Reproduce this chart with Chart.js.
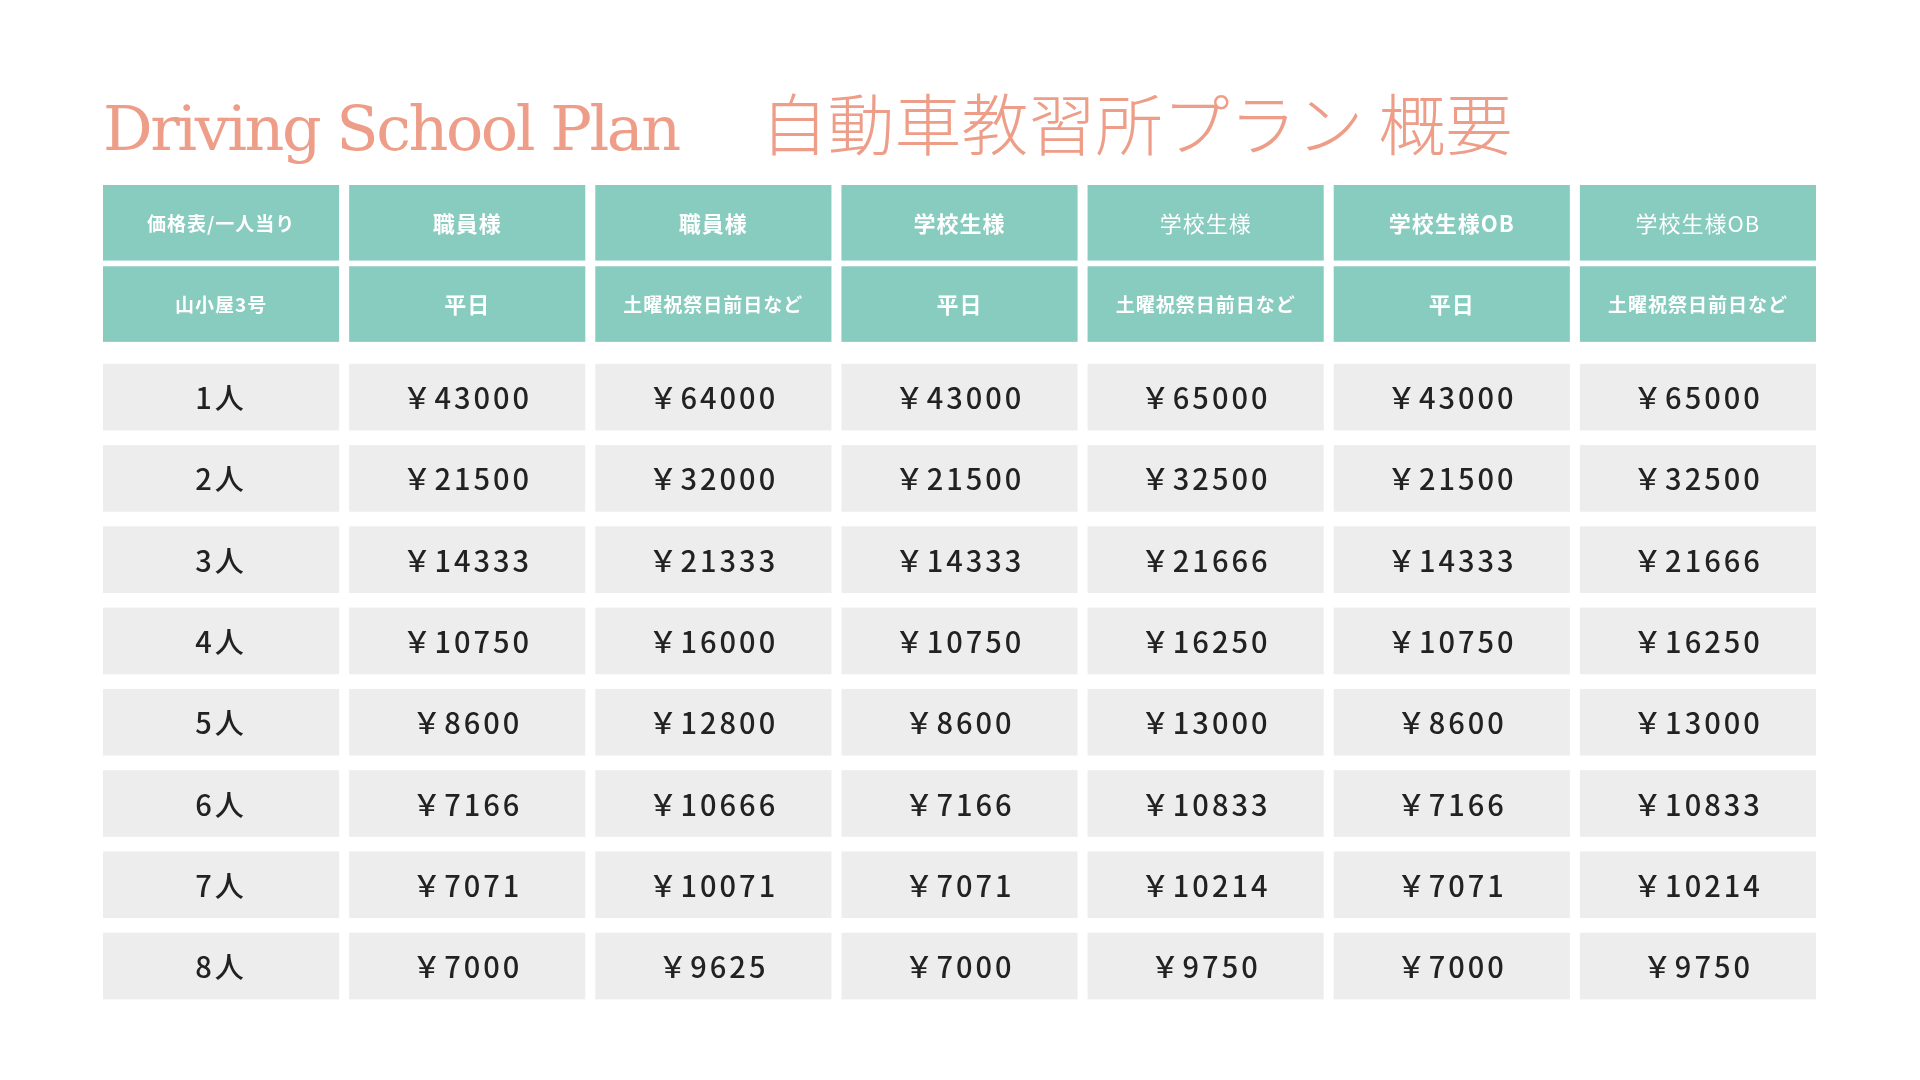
<!DOCTYPE html>
<html><head><meta charset="utf-8">
<script src="https://cdn.jsdelivr.net/npm/chart.js@4"></script>
<style>html,body{margin:0;background:#fff;width:1920px;height:1080px;overflow:hidden}
#wrap{position:absolute;left:0;top:0;width:1920px;height:1080px}
h1{position:absolute;margin:0;top:72px;left:103px;font-weight:300;color:#EE9E88;white-space:nowrap}
.en{font-family:"DejaVu Serif","Liberation Serif",serif;font-size:62px;font-weight:300;letter-spacing:-2.5px}
.jp{font-family:"Noto Sans CJK JP";font-size:67px;font-weight:300;margin-left:82px}
</style></head><body>
<div id="wrap"><canvas id="c"></canvas></div>
<h1><span class="en">Driving School Plan</span><span class="jp">自動車教習所プラン 概要</span></h1>
<script>
const headerRow1 = ["価格表/一人当り","職員様","職員様","学校生様","学校生様","学校生様OB","学校生様OB"];
const headerRow1Bold = [true,true,true,true,false,true,false];
const headerRow2 = ["山小屋3号","平日","土曜祝祭日前日など","平日","土曜祝祭日前日など","平日","土曜祝祭日前日など"];
const rowLabels = ["1人","2人","3人","4人","5人","6人","7人","8人"];
const col1 = [43000,21500,14333,10750,8600,7166,7071,7000];
const col2 = [64000,32000,21333,16000,12800,10666,10071,9625];
const col3 = [43000,21500,14333,10750,8600,7166,7071,7000];
const col4 = [65000,32500,21666,16250,13000,10833,10214,9750];
const col5 = [43000,21500,14333,10750,8600,7166,7071,7000];
const col6 = [65000,32500,21666,16250,13000,10833,10214,9750];
const valueCols = [col1,col2,col3,col4,col5,col6];

const tablePlugin = {
  id:'table',
  afterDraw(chart){
    const ctx = chart.ctx, xs = chart.scales.x, ys = chart.scales.y;
    const nCols = headerRow1.length, nRows = 2 + rowLabels.length;
    const cell = (c, r, frac) => {
      const x0 = xs.getPixelForValue(c), x1 = xs.getPixelForValue(c + 1);
      const y0 = ys.getPixelForValue(r), y1 = ys.getPixelForValue(r + frac);
      return {x:x0, y:y0, w:x1-x0, h:y1-y0};
    };
    ctx.save();
    ctx.textAlign='center'; ctx.textBaseline='middle';
    for (let r = 0; r < nRows; r++) {
      for (let c = 0; c < nCols; c++) {
        const isHead = r < 2;
        const b = cell(isHead ? c : c, isHead ? r : r + 0.2, isHead ? 0.93 : 0.82);
        const gap = 5;
        ctx.fillStyle = isHead ? '#88CBBF' : '#EDEDED';
        ctx.fillRect(b.x + gap, b.y, b.w - 2*gap, b.h);
        let txt, font, color;
        if (isHead) {
          txt = r === 0 ? headerRow1[c] : headerRow2[c];
          const bold = r === 0 ? headerRow1Bold[c] : true;
          const size = (c === 0 || (r === 1 && c % 2 === 0)) ? 19 : 22;
          font = (bold ? '700 ' : '400 ') + size + 'px "Noto Sans CJK JP"';
          color = '#ffffff';
          ctx.letterSpacing = '1px';
        } else {
          txt = c === 0 ? rowLabels[r-2] : '￥' + valueCols[c-1][r-2];
          font = '500 29px "Noto Sans CJK JP"';
          color = '#222222';
          ctx.letterSpacing = '3px';
        }
        ctx.font = font; ctx.fillStyle = color;
        ctx.fillText(txt, b.x + b.w/2, b.y + b.h/2 + 1);
      }
    }
    ctx.restore();
  }
};

new Chart(document.getElementById('c'), {
  type:'scatter',
  data:{datasets:[{data:[]}]},
  options:{
    responsive:true, maintainAspectRatio:false, animation:false,
    layout:{padding:{left:98,right:99,top:185,bottom:66}},
    plugins:{legend:{display:false},tooltip:{enabled:false}},
    scales:{
      x:{type:'linear',min:0,max:7,display:false},
      y:{type:'linear',min:0,max:10.2,reverse:true,display:false}
    }
  },
  plugins:[tablePlugin]
});
</script></body></html>
